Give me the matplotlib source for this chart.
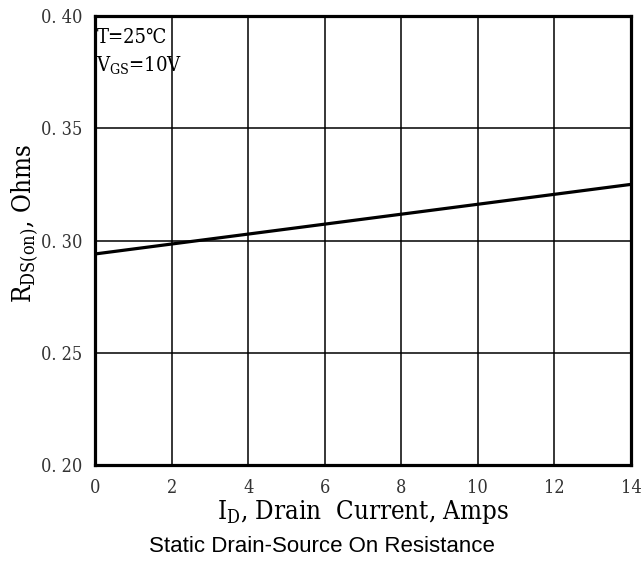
import matplotlib
matplotlib.use("Agg")
import matplotlib.pyplot as plt

# --- datos ---
corriente_id = [0, 14]
rds_on = [0.294, 0.325]
ticks_x = [0, 2, 4, 6, 8, 10, 12, 14]
ticks_y = [0.20, 0.25, 0.30, 0.35, 0.40]
etiquetas_y = ["0. 20", "0. 25", "0. 30", "0. 35", "0. 40"]

plt.rcParams["font.family"] = ["DejaVu Serif", "Noto Serif CJK JP"]
plt.rcParams["font.stretch"] = "condensed"
plt.rcParams["mathtext.fontset"] = "custom"
plt.rcParams["mathtext.rm"] = "DejaVu Serif:stretch=condensed"

fig = plt.figure(figsize=(6.43, 5.71), dpi=100)
ax = fig.add_axes([95 / 643, 1 - 465 / 571, 536 / 643, 449 / 571])

ax.plot(corriente_id, rds_on, color="black", linewidth=2.3, solid_capstyle="butt")

ax.set_xlim(0, 14)
ax.set_ylim(0.20, 0.40)
ax.set_xticks(ticks_x)
ax.set_yticks(ticks_y)
ax.set_yticklabels(etiquetas_y)
ax.grid(True, color="black", linewidth=1.1)
ax.tick_params(length=0, labelsize=13)
ax.tick_params(axis="x", pad=10)
ax.tick_params(axis="y", pad=9)
for lbl in ax.get_xticklabels() + ax.get_yticklabels():
    lbl.set_color("#333333")
for s in ax.spines.values():
    s.set_linewidth(2.3)

ax.set_xlabel(r"I$_\mathrm{D}$, Drain  Current, Amps", fontsize=18.5, labelpad=1)
ax.set_ylabel(r"R$_\mathrm{DS(on)}$, Ohms", fontsize=18.5)
ax.yaxis.set_label_coords(-0.102, 0.537)

# condiciones de medida
ax.text(0.004, 0.940, "T=25℃", transform=ax.transAxes, fontsize=14.5,
        va="baseline", ha="left")
ax.text(0.002, 0.875, r"V$_\mathrm{GS}$=10V", transform=ax.transAxes, fontsize=14.5,
        va="baseline", ha="left")

fig.text(0.5, 1 - 546 / 571, "Static Drain-Source On Resistance",
         fontsize=16, ha="center", va="center", family="Liberation Sans",
         stretch="normal")

fig.savefig("out.png", dpi=100, facecolor="white")
